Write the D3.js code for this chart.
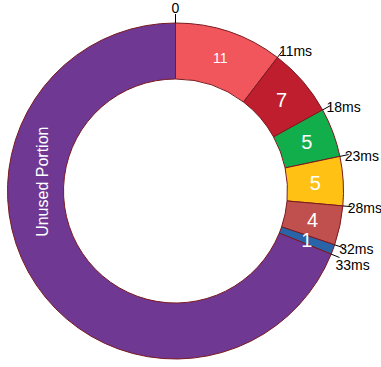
<!DOCTYPE html>
<html>
<head>
<meta charset="utf-8">
<script src="https://cdn.jsdelivr.net/npm/d3@7"></script>
<style>
  html, body { margin: 0; padding: 0; background: #fff; }
  svg { display: block; font-family: "Liberation Sans", Arial, sans-serif; }
</style>
</head>
<body>
<svg id="chart" width="381" height="367"></svg>
<script>
// Time spent per stage (ms), drawn clockwise from the top
const segmentLabels = ["11", "7", "5", "5", "4", "1"];
const segmentValues = [11, 7, 5, 5, 4, 1];
const unusedLabel = "Unused Portion";
const unusedValue = 73;
const boundaryLabels = ["0", "11ms", "18ms", "23ms", "28ms", "32ms", "33ms"];

const palette = ["#f0565b", "#be1e2d", "#12ae4b", "#ffc114", "#c0504d", "#2a64a8"];
const unusedColor = "#6f3893";

const width = 381, height = 367;
const cx = 175.5, cy = 191;
const outerR = 168, innerR = 112;

const svg = d3.select("#chart");
const g = svg.append("g").attr("transform", `translate(${cx},${cy})`);

const data = segmentValues.map((v, i) => ({ label: segmentLabels[i], value: v, color: palette[i], unused: false }))
  .concat([{ label: unusedLabel, value: unusedValue, color: unusedColor, unused: true }]);

const total = d3.sum(data, d => d.value);
const angle = d3.scaleLinear().domain([0, total]).range([0, 2 * Math.PI]);

const pie = d3.pie().sort(null).value(d => d.value).startAngle(0).endAngle(2 * Math.PI);
const arc = d3.arc().innerRadius(innerR).outerRadius(outerR);
const arcs = pie(data);

g.selectAll("path.slice")
  .data(arcs)
  .join("path")
  .attr("class", "slice")
  .attr("d", arc)
  .attr("fill", d => d.data.color)
  .attr("stroke", "#7a1a1f")
  .attr("stroke-width", 1);

// Value labels inside each used slice
g.selectAll("text.value")
  .data(arcs.filter(d => !d.data.unused))
  .join("text")
  .attr("class", "value")
  .attr("transform", d => `translate(${arc.centroid(d)})`)
  .attr("text-anchor", "middle")
  .attr("dominant-baseline", "central")
  .attr("fill", "#fff")
  .attr("font-size", d => d.data.label.length > 1 ? 14 : 20)
  .text(d => d.data.label);

// Label for the remaining portion, written along the left side of the ring
const unusedAngle = -86 * Math.PI / 180;
const unusedR = 133;
g.append("text")
  .attr("transform", `translate(${unusedR * Math.sin(unusedAngle)},${-unusedR * Math.cos(unusedAngle)}) rotate(-90)`)
  .attr("text-anchor", "middle")
  .attr("dominant-baseline", "central")
  .attr("fill", "#fff")
  .attr("font-size", 16)
  .text(unusedLabel);

// Cumulative boundary ticks with their labels
const cumulative = [0, ...Array.from(d3.cumsum(segmentValues))];
const tickLen = 9;
const minGap = 16;
const boundaries = cumulative.map((c, i) => {
  const a = angle(c);
  const tx = (outerR + tickLen) * Math.sin(a);
  const ty = -(outerR + tickLen) * Math.cos(a);
  return { c, a, label: boundaryLabels[i], tx, ty, lx: c === 0 ? tx : tx - 4, ly: c === 0 ? ty - 1 : ty + 1 };
});
// push crowded labels apart vertically
for (let i = 2; i < boundaries.length; i++) {
  const prev = boundaries[i - 1], cur = boundaries[i];
  if (cur.ly - prev.ly < minGap) cur.ly = prev.ly + minGap;
}

const ticks = g.selectAll("g.boundary")
  .data(boundaries)
  .join("g")
  .attr("class", "boundary");

ticks.append("line")
  .attr("x1", d => outerR * Math.sin(d.a))
  .attr("y1", d => -outerR * Math.cos(d.a))
  .attr("x2", d => d.tx)
  .attr("y2", d => d.ty)
  .attr("stroke", "#000")
  .attr("stroke-width", 1);

ticks.append("text")
  .attr("x", d => d.lx)
  .attr("y", d => d.ly)
  .attr("text-anchor", d => d.c === 0 ? "middle" : "start")
  .attr("dominant-baseline", d => d.c === 0 ? "auto" : "central")
  .attr("fill", "#000")
  .attr("font-size", 14)
  .text(d => d.label);
</script>
</body>
</html>
